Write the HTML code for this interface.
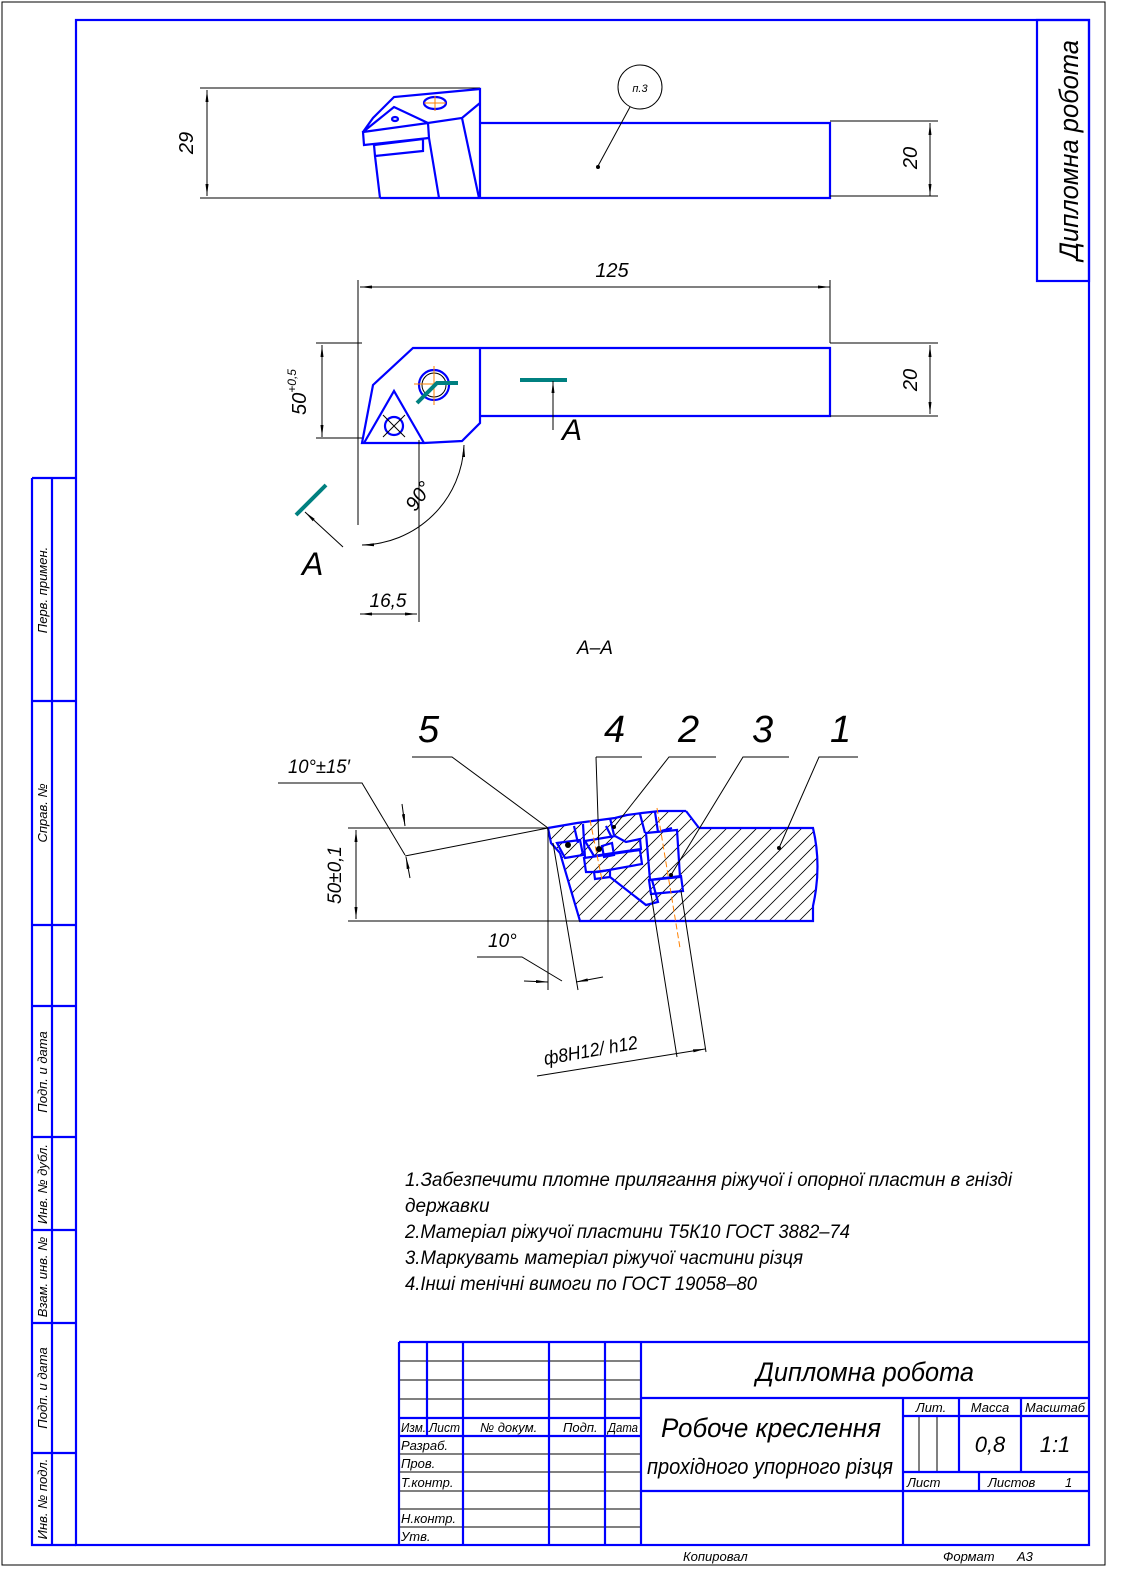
<!DOCTYPE html>
<html><head><meta charset="utf-8"><style>
html,body{margin:0;padding:0;background:#fff}
svg{display:block}
text{font-family:"Liberation Sans Narrow","Liberation Sans",sans-serif;font-style:italic;fill:#000}
.b{stroke:#0000ff;stroke-width:2.2;fill:none}
.k{stroke:#000;stroke-width:1;fill:none}
.t{stroke:#008080;stroke-width:4;fill:none}
.o{stroke:#ff8000;stroke-width:1;fill:none;stroke-dasharray:6 3}
</style></head><body>
<svg width="1127" height="1592" viewBox="0 0 1127 1592" xmlns="http://www.w3.org/2000/svg">
<defs>
<marker id="ar" viewBox="0 0 12 6" refX="12" refY="3" markerWidth="12" markerHeight="6" orient="auto-start-reverse" markerUnits="userSpaceOnUse"><path d="M0,1.5 L12,3 L0,4.5z" fill="#000"/></marker>
<clipPath id="hc"><path d="M686,811 L699,828 L813,828 Q822,866 813,906 L813,921 L580,921 L560,853 L551,843 L548,828 L600,820 L642,813z"/></clipPath>
</defs>
<rect x="2" y="2" width="1103" height="1563" fill="none" stroke="#000" stroke-width="1"/>
<rect x="76" y="20" width="1013" height="1525" class="b"/>
<rect x="1037" y="20" width="52" height="261" class="b"/>
<text transform="translate(1078,150) rotate(-90)" font-size="27" text-anchor="middle" textLength="220" lengthAdjust="spacingAndGlyphs">Дипломна робота</text>
<path class="b" d="M32,478 H76 M32,478 V1545 H76 M52,478 V1545 M32,701 H76 M32,925 H76 M32,1006 H76 M32,1137 H76 M32,1230 H76 M32,1323 H76 M32,1453 H76"/>
<g font-size="13">
<text transform="translate(47,590) rotate(-90)" text-anchor="middle">Перв. примен.</text>
<text transform="translate(47,813) rotate(-90)" text-anchor="middle">Справ. №</text>
<text transform="translate(47,1072) rotate(-90)" text-anchor="middle">Подп. и дата</text>
<text transform="translate(47,1184) rotate(-90)" text-anchor="middle">Инв. № дубл.</text>
<text transform="translate(47,1277) rotate(-90)" text-anchor="middle">Взам. инв. №</text>
<text transform="translate(47,1388) rotate(-90)" text-anchor="middle">Подп. и дата</text>
<text transform="translate(47,1499) rotate(-90)" text-anchor="middle">Инв. № подл.</text>
</g>

<!-- TOP VIEW -->
<path class="k" d="M200,88 H480 M200,198 H380"/>
<line class="k" x1="207" y1="90" x2="207" y2="196" marker-start="url(#ar)" marker-end="url(#ar)"/>
<text transform="translate(193,143) rotate(-90)" font-size="20" text-anchor="middle">29</text>
<path class="b" d="M480,123 H830 V198 H380"/>
<path class="b" d="M363,132 L373,118 L394,97 L480,89 L480,198 M480,103 L462,118 L428,123 L394,107 L363,132 M363,132 L428,123 L429,138 L364,145 Z M374,145 L423,139 L423,151 L375,156 Z M375,156 L380,198 M429,138 L439,198 M462,118 L479,198"/>
<ellipse cx="435" cy="103" rx="11" ry="6" class="b" stroke-width="1.8"/>
<ellipse cx="395" cy="119" rx="3" ry="2" class="b" stroke-width="1.5"/>
<path d="M424,103 H446 M435,96 V111" stroke="#ff8000" stroke-width="1"/>
<path class="k" d="M830,121 H938 M830,196 H938"/>
<line class="k" x1="930" y1="123" x2="930" y2="196" marker-start="url(#ar)" marker-end="url(#ar)"/>
<text transform="translate(917,158) rotate(-90)" font-size="20" text-anchor="middle">20</text>
<circle cx="640" cy="87" r="22" class="k"/>
<text x="640" y="92" font-size="11" text-anchor="middle">п.3</text>
<line class="k" x1="630" y1="107" x2="598" y2="166"/>
<circle cx="598" cy="167" r="2" fill="#000"/>

<!-- PLAN VIEW -->
<path class="k" d="M358,280 V440 M830,280 V343"/>
<line class="k" x1="360" y1="287" x2="830" y2="287" marker-start="url(#ar)" marker-end="url(#ar)"/>
<text x="612" y="277" font-size="20" text-anchor="middle">125</text>
<path class="b" d="M362,443 L373,385 L413,348 L480,348 L480,423 L462,441 L424,443 L362,443 Z M480,348 H830 V416 H480"/>
<path class="b" d="M364,443 L394,391 L424,443"/>
<circle cx="394" cy="426" r="9" class="b" stroke-width="1.8"/>
<path class="k" d="M383,415 L405,437 M405,415 L383,437"/>
<circle cx="434" cy="385" r="15" class="b" stroke-width="1.8"/>
<circle cx="434" cy="385" r="12" class="k"/>
<path d="M414,384 H454 M434,366 V405" stroke="#ff8000" stroke-width="1"/>
<path class="t" d="M417,403 L437,383 H458 M520,380 H567"/>
<line class="k" x1="553" y1="430" x2="553" y2="381" marker-end="url(#ar)"/>
<text x="562" y="440" font-size="30">A</text>
<path class="k" d="M316,343 H362 M316,438 H362"/>
<line class="k" x1="322" y1="345" x2="322" y2="437" marker-start="url(#ar)" marker-end="url(#ar)"/>
<text transform="translate(306,392) rotate(-90)" font-size="20" text-anchor="middle">50<tspan font-size="12" dy="-10">+0,5</tspan></text>
<path class="k" d="M830,343 H938 M830,416 H938"/>
<line class="k" x1="930" y1="345" x2="930" y2="414" marker-start="url(#ar)" marker-end="url(#ar)"/>
<text transform="translate(917,380) rotate(-90)" font-size="20" text-anchor="middle">20</text>
<path class="k" d="M358,440 V525 M419,440 V622"/>
<line class="k" x1="360" y1="614" x2="417" y2="614" marker-start="url(#ar)" marker-end="url(#ar)"/>
<text x="388" y="607" font-size="19" text-anchor="middle">16,5</text>
<path class="k" d="M464,445 A104,104 0 0 1 362,545" marker-start="url(#ar)" marker-end="url(#ar)"/>
<text transform="translate(424,500) rotate(-55)" font-size="20" text-anchor="middle">90°</text>
<path class="t" d="M296,515 L326,485"/>
<line class="k" x1="343" y1="547" x2="305" y2="512" marker-end="url(#ar)"/>
<text x="302" y="575" font-size="32">A</text>
<text x="595" y="654" font-size="19" text-anchor="middle">A–A</text>

<!-- SECTION A-A -->
<g clip-path="url(#hc)" stroke="#000" stroke-width="0.8">
<path d="M460,930 L580,810 M475,930 L595,810 M490,930 L610,810 M505,930 L625,810 M520,930 L640,810 M535,930 L655,810 M550,930 L670,810 M565,930 L685,810 M580,930 L700,810 M595,930 L715,810 M610,930 L730,810 M625,930 L745,810 M640,930 L760,810 M655,930 L775,810 M670,930 L790,810 M685,930 L805,810 M700,930 L820,810 M715,930 L835,810 M730,930 L850,810 M745,930 L865,810 M760,930 L880,810 M775,930 L895,810 M790,930 L910,810 M805,930 L925,810"/>
</g>
<path fill="#fff" class="b" d="M557,843 L580,840 L583,855 L565,858 Z"/>
<path fill="#fff" class="b" d="M585,841 L615,836 L626,842 L640,839 L641,849 L620,852 L594,856 Z"/>
<path fill="#fff" class="b" d="M584,858 L640,850 L642,864 L598,872 L586,872 Z"/>
<path fill="#fff" class="b" d="M646,833 L677,830 L680,877 L650,880 Z"/>
<path fill="#fff" class="b" d="M649,880 L681,876 L683,891 L651,894 Z"/>
<path fill="#fff" class="b" d="M594,872 L610,870 L610,877 L595,879 Z"/>
<path class="b" d="M699,828 H813 Q822,866 813,906 V921 H580 L560,853 M686,811 L699,828 M548,828 L577,823 L600,820 L615,818 L627,815 L642,813 L660,811 L686,811 M548,828 L551,843 L560,853 M574,826 L578,843 M583,824 L585,858 M610,818 L614,835 M606,826 L612,838 M640,814 L645,833 M655,812 L658,832 M661,831 L672,828 M610,877 L646,905 L658,902 L652,880"/>
<path class="b" d="M602,846 L612,843 L614,855 L604,857 Z"/>
<path class="o" d="M590,820 L602,880 M657,808 L680,948"/>
<path class="k" d="M651,894 L677,1057 M681,891 L706,1052"/>
<circle cx="568" cy="845" r="3" fill="#000"/>
<circle cx="599" cy="849" r="3" fill="#000"/>
<circle cx="614" cy="827" r="2" fill="#000"/>
<circle cx="671" cy="875" r="2" fill="#000"/>
<circle cx="779" cy="848" r="2" fill="#000"/>
<g font-size="38">
<text x="418" y="742">5</text><text x="604" y="742">4</text><text x="678" y="742">2</text><text x="752" y="742">3</text><text x="830" y="742">1</text>
</g>
<path class="k" d="M412,757 H452 L548,828 M596,757 H642 M596,757 L599,849 M669,757 H716 L669,757 L614,827 M743,757 H789 L743,757 L671,875 M819,757 H858 L819,757 L779,848"/>
<text x="288" y="773" font-size="19" textLength="62" lengthAdjust="spacingAndGlyphs">10°±15′</text>
<path class="k" d="M278,783 H362 L405,855 M405,856 L548,828 M348,828 H548 M348,921 H580"/>
<line class="k" x1="402" y1="804" x2="405" y2="826" marker-end="url(#ar)"/>
<line class="k" x1="410" y1="878" x2="406" y2="857" marker-end="url(#ar)"/>
<line class="k" x1="356" y1="830" x2="356" y2="919" marker-start="url(#ar)" marker-end="url(#ar)"/>
<text transform="translate(341,875) rotate(-90)" font-size="19" text-anchor="middle">50±0,1</text>
<text x="488" y="947" font-size="19">10°</text>
<path class="k" d="M477,957 H522 L562,981 M548,828 V990 M553,843 L578,990"/>
<line class="k" x1="524" y1="981" x2="548" y2="982" marker-end="url(#ar)"/>
<line class="k" x1="603" y1="977" x2="576" y2="982" marker-end="url(#ar)"/>
<line class="k" x1="537" y1="1076" x2="705" y2="1049" marker-end="url(#ar)"/>
<text transform="translate(545,1065) rotate(-10)" font-size="19" textLength="95" lengthAdjust="spacingAndGlyphs">ф8Н12/ h12</text>

<g font-size="19">
<text x="405" y="1186" textLength="607" lengthAdjust="spacingAndGlyphs">1.Забезпечити плотне прилягання ріжучої і опорної пластин в гнізді</text>
<text x="405" y="1212">державки</text>
<text x="405" y="1238" textLength="445" lengthAdjust="spacingAndGlyphs">2.Матеріал ріжучої пластини  Т5К10 ГОСТ 3882–74</text>
<text x="405" y="1264" textLength="398" lengthAdjust="spacingAndGlyphs">3.Маркувать матеріал ріжучої частини різця</text>
<text x="405" y="1290" textLength="352" lengthAdjust="spacingAndGlyphs">4.Інші тенічні вимоги по ГОСТ 19058–80</text>
</g>

<path class="k" d="M399,1361 H641 M399,1380 H641 M399,1399 H641 M399,1454 H641 M399,1472 H641 M399,1491 H641 M399,1509 H641 M399,1527 H641 M919,1416 V1472 M937,1416 V1472"/>
<path class="b" d="M399,1342 H1089 M399,1342 V1545 M427,1342 V1436 M463,1342 V1545 M549,1342 V1545 M605,1342 V1545 M641,1342 V1545 M399,1418 H641 M399,1436 H641 M641,1398 H1089 M903,1398 V1545 M959,1398 V1472 M1021,1398 V1472 M903,1416 H1089 M903,1472 H1089 M979,1472 V1491 M641,1491 H1089"/>
<text x="865" y="1381" font-size="27" text-anchor="middle" textLength="218" lengthAdjust="spacingAndGlyphs">Дипломна робота</text>
<text x="771" y="1437" font-size="27" text-anchor="middle" textLength="220" lengthAdjust="spacingAndGlyphs">Робоче креслення</text>
<text x="770" y="1474" font-size="22" text-anchor="middle" textLength="246" lengthAdjust="spacingAndGlyphs">прохідного упорного різця</text>
<g font-size="13">
<text x="931" y="1412" text-anchor="middle">Лит.</text>
<text x="990" y="1412" text-anchor="middle">Масса</text>
<text x="1055" y="1412" text-anchor="middle" textLength="60" lengthAdjust="spacingAndGlyphs">Масштаб</text>
<text x="907" y="1487">Лист</text>
<text x="988" y="1487">Листов</text>
<text x="1065" y="1487">1</text>
<text x="401" y="1432" textLength="25" lengthAdjust="spacingAndGlyphs">Изм.</text><text x="429" y="1432" textLength="31" lengthAdjust="spacingAndGlyphs">Лист</text><text x="480" y="1432">№ докум.</text><text x="563" y="1432">Подп.</text><text x="608" y="1432" textLength="30" lengthAdjust="spacingAndGlyphs">Дата</text>
<text x="401" y="1450">Разраб.</text>
<text x="401" y="1468">Пров.</text>
<text x="401" y="1487">Т.контр.</text>
<text x="401" y="1523">Н.контр.</text>
<text x="401" y="1541">Утв.</text>
<text x="683" y="1561">Копировал</text>
<text x="943" y="1561">Формат</text><text x="1017" y="1561">A3</text>
</g>
<text x="990" y="1452" font-size="22" text-anchor="middle">0,8</text>
<text x="1055" y="1452" font-size="22" text-anchor="middle">1:1</text>
</svg>
</body></html>
